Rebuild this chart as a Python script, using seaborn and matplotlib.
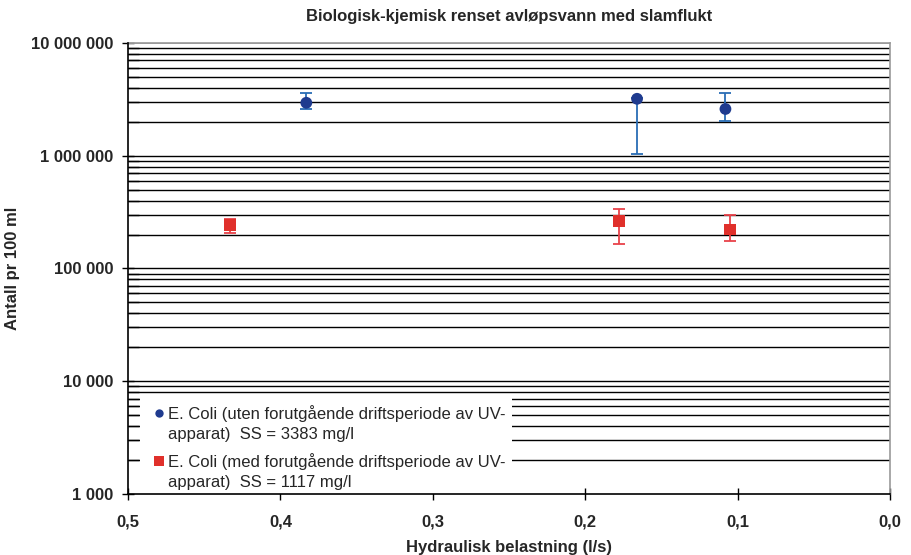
import matplotlib
matplotlib.use("Agg")
import matplotlib.pyplot as plt
import matplotlib.ticker as mticker
from matplotlib.lines import Line2D
from matplotlib.patches import Rectangle
from matplotlib.legend_handler import HandlerLine2D
import seaborn as sns
import numpy as np
import pandas as pd

# Data
series_names = [
    "E. Coli (uten forutgående driftsperiode av UV-\napparat)  SS = 3383 mg/l",
    "E. Coli (med forutgående driftsperiode av UV-\napparat)  SS = 1117 mg/l",
]
blue_x = [0.383, 0.166, 0.108]
blue_y = [2_950_000, 3_200_000, 2_600_000]
blue_lo = [2_580_000, 1_040_000, 2_050_000]
blue_hi = [3_600_000, 3_250_000, 3_600_000]

red_x = [0.433, 0.178, 0.105]
red_y = [245_000, 262_000, 222_000]
red_lo = [205_000, 165_000, 174_000]
red_hi = [275_000, 340_000, 298_000]

x_ticks = [0.5, 0.4, 0.3, 0.2, 0.1, 0.0]
x_tick_labels = ["0,5", "0,4", "0,3", "0,2", "0,1", "0,0"]
y_ticks = [1e3, 1e4, 1e5, 1e6, 1e7]
y_tick_labels = ["1 000", "10 000", "100 000", "1 000 000", "10 000 000"]

df = pd.DataFrame({
    "x": blue_x + red_x,
    "y": blue_y + red_y,
    "serie": [series_names[0]] * 3 + [series_names[1]] * 3,
})

sns.set_theme(style="white")
plt.rcParams["font.family"] = ["Liberation Sans", "DejaVu Sans"]

fig = plt.figure(figsize=(9.11, 5.55), dpi=100)
ax = fig.add_axes([0.1405, 0.11, 0.8365, 0.8125])

ax.set_yscale("log")
ax.set_ylim(1e3, 1e7)
ax.set_xlim(0.5, 0.0)

# gridlines at every log step
for dec in [1e3, 1e4, 1e5, 1e6]:
    for m in range(1, 10):
        v = dec * m
        if v > 1e3:
            ax.axhline(v, color="black", lw=1.0, zorder=1)
ax.axhline(1e7, color="#999999", lw=1.2, zorder=1)

blue_c = "#1f3b8f"
blue_e = "#2a6db5"
red_c = "#e0302b"
red_e = "#e8424a"

ax.errorbar(blue_x, blue_y,
            yerr=[np.array(blue_y) - np.array(blue_lo), np.array(blue_hi) - np.array(blue_y)],
            fmt="none", ecolor=blue_e, elinewidth=1.3, capsize=4, capthick=1.3, zorder=3)
ax.errorbar(red_x, red_y,
            yerr=[np.array(red_y) - np.array(red_lo), np.array(red_hi) - np.array(red_y)],
            fmt="none", ecolor=red_e, elinewidth=1.3, capsize=4, capthick=1.3, zorder=3)

sns.scatterplot(data=df, x="x", y="y", hue="serie", style="serie",
                palette=[blue_c, red_c], markers=["o", "s"], s=72,
                edgecolor="none", linewidth=0, ax=ax, zorder=4, legend=False)

ax.set_xticks(x_ticks)
ax.set_xticklabels(x_tick_labels, fontsize=12, fontweight="bold")
ax.set_yticks(y_ticks)
ax.set_yticklabels(y_tick_labels, fontsize=12, fontweight="bold")
ax.yaxis.set_minor_locator(mticker.LogLocator(base=10, subs=np.arange(2, 10)))
ax.yaxis.set_minor_formatter(mticker.NullFormatter())
ax.tick_params(axis="both", which="major", direction="inout", length=9, width=1, color="black")
ax.tick_params(axis="x", which="major", pad=10, bottom=True)
ax.tick_params(axis="y", which="major", pad=6, left=True)
ax.tick_params(axis="y", which="minor", direction="in", length=8, width=1, color="black", left=True)

for s in ["left", "bottom"]:
    ax.spines[s].set_color("black")
    ax.spines[s].set_linewidth(1.2)
    ax.spines[s].set_zorder(7)
for s in ["top", "right"]:
    ax.spines[s].set_color("#999999")
    ax.spines[s].set_linewidth(1.2)

ax.set_xlabel("Hydraulisk belastning (l/s)", fontsize=12, fontweight="bold", labelpad=8)
ax.set_ylabel("Antall pr 100 ml", fontsize=12, fontweight="bold", labelpad=8)
ax.set_title("Biologisk-kjemisk renset avløpsvann med slamflukt", fontsize=12,
             fontweight="bold", pad=16)

# legend background box
ax.add_patch(Rectangle((0.0158, 0.0), 0.4882, 0.2129, transform=ax.transAxes,
                       facecolor="white", edgecolor="none", zorder=5))


class UpHandler(HandlerLine2D):
    def __init__(self, dy, **kw):
        super().__init__(**kw)
        self.dy = dy

    def create_artists(self, legend, orig_handle, xdescent, ydescent, width, height,
                       fontsize, trans):
        arts = super().create_artists(legend, orig_handle, xdescent, ydescent, width,
                                      height, fontsize, trans)
        for a in arts:
            a.set_ydata(np.asarray(a.get_ydata(), dtype=float) + self.dy)
        return arts


handles = [
    Line2D([], [], ls="none", marker="o", color=blue_c, markersize=6, markeredgewidth=0),
    Line2D([], [], ls="none", marker="s", color=red_c, markersize=7, markeredgewidth=0),
]
leg = ax.legend(handles, series_names, loc="upper left", bbox_to_anchor=(0.032, 0.1963),
                fontsize=12, frameon=False, handletextpad=0.15, handlelength=0.8,
                borderpad=0.0, labelspacing=0.7, borderaxespad=0.0,
                handler_map={Line2D: UpHandler(7.5)})
leg.set_zorder(6)
for t in leg.get_texts():
    t.set_linespacing(1.37)

fig.savefig("out.png", dpi=100)
